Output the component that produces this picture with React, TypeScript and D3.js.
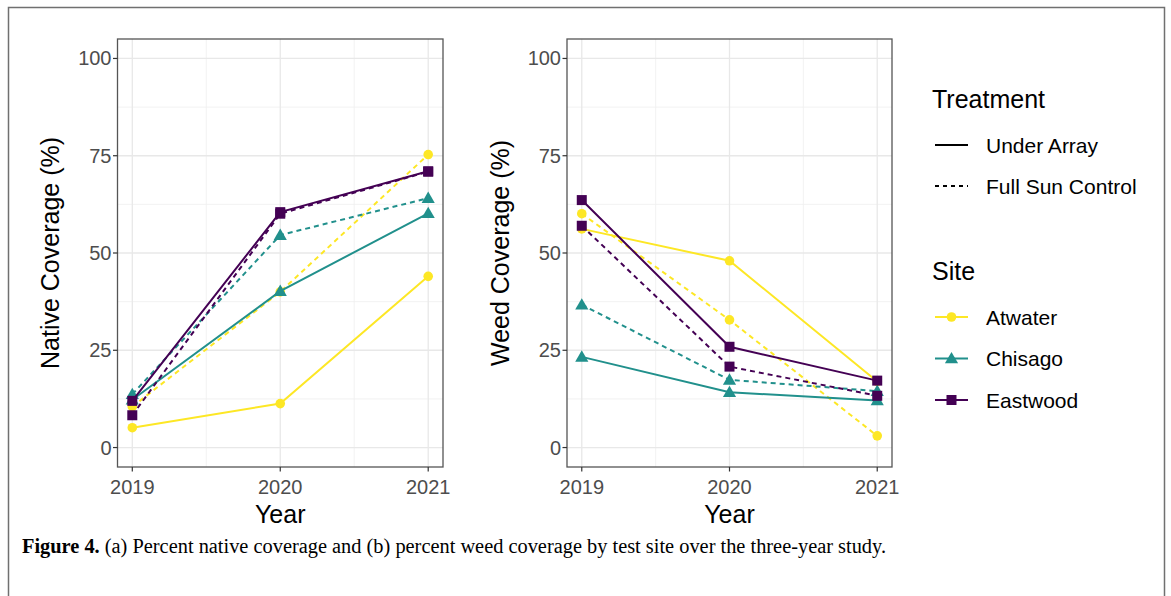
import * as d3 from "d3";
import React, { useRef, useEffect } from "react";

// data
const years = [2019, 2020, 2021];
const sites = ["Atwater", "Chisago", "Eastwood"];
const siteColors = ["#FDE725", "#21908C", "#440154"];
const treatments = ["Under Array", "Full Sun Control"];
const yTicks = [0, 25, 50, 75, 100];

const nativeAtwaterUA = [5.1, 11.3, 44];
const nativeAtwaterFSC = [10.5, 40, 75.3];
const nativeChisagoUA = [12.3, 40.2, 60.2];
const nativeChisagoFSC = [13.7, 54.6, 64.1];
const nativeEastwoodUA = [12, 60.5, 71];
const nativeEastwoodFSC = [8.3, 60.1, 70.9];

const weedAtwaterUA = [56.2, 48, 17];
const weedAtwaterFSC = [60.1, 32.8, 3];
const weedChisagoUA = [23.3, 14.2, 12.1];
const weedChisagoFSC = [36.7, 17.4, 14.5];
const weedEastwoodUA = [63.6, 25.9, 17.2];
const weedEastwoodFSC = [57, 20.8, 13.3];

const nativeSeries = [
  { site: 0, trt: 0, values: nativeAtwaterUA },
  { site: 0, trt: 1, values: nativeAtwaterFSC },
  { site: 1, trt: 0, values: nativeChisagoUA },
  { site: 1, trt: 1, values: nativeChisagoFSC },
  { site: 2, trt: 0, values: nativeEastwoodUA },
  { site: 2, trt: 1, values: nativeEastwoodFSC },
];
const weedSeries = [
  { site: 0, trt: 0, values: weedAtwaterUA },
  { site: 0, trt: 1, values: weedAtwaterFSC },
  { site: 1, trt: 0, values: weedChisagoUA },
  { site: 1, trt: 1, values: weedChisagoFSC },
  { site: 2, trt: 0, values: weedEastwoodUA },
  { site: 2, trt: 1, values: weedEastwoodFSC },
];

const dash = "5,4";
const font = "Liberation Sans, Arial, sans-serif";

function marker(sel, siteIdx, x, y, color) {
  if (siteIdx === 0) {
    sel.append("circle").attr("cx", x).attr("cy", y).attr("r", 4.8).attr("fill", color);
  } else if (siteIdx === 1) {
    const s = d3.symbol().type(d3.symbolTriangle).size(75);
    sel.append("path").attr("d", s()).attr("transform", `translate(${x},${y + 1})`).attr("fill", color);
  } else {
    sel.append("rect").attr("x", x - 5).attr("y", y - 5).attr("width", 10).attr("height", 10).attr("fill", color);
  }
}

function App() {
  const svgRef = useRef();
  const width = 1171;
  const height = 596;

  useEffect(() => {
    const svg = d3.select(svgRef.current);
    svg.selectAll("*").remove();

    svg.append("rect").attr("width", width).attr("height", height).attr("fill", "white");
    // figure frame (open at the bottom)
    svg.append("path")
      .attr("d", `M8.5,${height} V7.5 H1164.5 V${height}`)
      .attr("fill", "none").attr("stroke", "#707070").attr("stroke-width", 1.5);

    const yScale = d3.scaleLinear().domain([-5, 105]).range([467, 39]);

    function panel(left, right, series, title, titleX) {
      const xScale = d3.scaleLinear().domain([2018.9, 2021.1]).range([left, right]);
      const g = svg.append("g");
      const top = yScale(105), bottom = yScale(-5);

      // minor grid
      [12.5, 37.5, 62.5, 87.5].forEach(v => {
        g.append("line").attr("x1", left).attr("x2", right).attr("y1", yScale(v)).attr("y2", yScale(v))
          .attr("stroke", "#efefef").attr("stroke-width", 0.8);
      });
      [2019.5, 2020.5].forEach(v => {
        g.append("line").attr("y1", top).attr("y2", bottom).attr("x1", xScale(v)).attr("x2", xScale(v))
          .attr("stroke", "#efefef").attr("stroke-width", 0.8);
      });
      // major grid
      yTicks.forEach(v => {
        g.append("line").attr("x1", left).attr("x2", right).attr("y1", yScale(v)).attr("y2", yScale(v))
          .attr("stroke", "#e8e8e8").attr("stroke-width", 1.3);
      });
      years.forEach(v => {
        g.append("line").attr("y1", top).attr("y2", bottom).attr("x1", xScale(v)).attr("x2", xScale(v))
          .attr("stroke", "#e8e8e8").attr("stroke-width", 1.3);
      });

      const line = d3.line().x((d, i) => xScale(years[i])).y(d => yScale(d));
      series.forEach(s => {
        g.append("path")
          .attr("d", line(s.values))
          .attr("fill", "none")
          .attr("stroke", siteColors[s.site])
          .attr("stroke-width", 2)
          .attr("stroke-dasharray", s.trt === 1 ? dash : null);
        s.values.forEach((v, i) => marker(g, s.site, xScale(years[i]), yScale(v), siteColors[s.site]));
      });

      // panel border
      g.append("rect").attr("x", left).attr("y", top).attr("width", right - left).attr("height", bottom - top)
        .attr("fill", "none").attr("stroke", "#555").attr("stroke-width", 1.3);

      // y axis ticks and labels
      yTicks.forEach(v => {
        g.append("line").attr("x1", left - 4.5).attr("x2", left).attr("y1", yScale(v)).attr("y2", yScale(v))
          .attr("stroke", "#333").attr("stroke-width", 1.2);
        g.append("text").text(v).attr("x", left - 6).attr("y", yScale(v) + 7)
          .attr("text-anchor", "end").style("font-family", font).style("font-size", "20px").style("fill", "#4d4d4d");
      });
      years.forEach(v => {
        g.append("line").attr("x1", xScale(v)).attr("x2", xScale(v)).attr("y1", bottom).attr("y2", bottom + 4.5)
          .attr("stroke", "#333").attr("stroke-width", 1.2);
        g.append("text").text(v).attr("x", xScale(v)).attr("y", bottom + 27)
          .attr("text-anchor", "middle").style("font-family", font).style("font-size", "20px").style("fill", "#4d4d4d");
      });

      g.append("text").text("Year").attr("x", xScale(2020)).attr("y", 523)
        .attr("text-anchor", "middle").style("font-family", font).style("font-size", "25px").style("fill", "black");
      g.append("text").text(title)
        .attr("transform", `translate(${titleX},${yScale(50)}) rotate(-90)`)
        .attr("text-anchor", "middle").style("font-family", font).style("font-size", "25px").style("fill", "black");
    }

    panel(117.5, 443, nativeSeries, "Native Coverage (%)", 59);
    panel(567, 892, weedSeries, "Weed Coverage (%)", 509);

    // legends
    const lg = svg.append("g");
    lg.append("text").text("Treatment").attr("x", 932).attr("y", 108)
      .style("font-family", font).style("font-size", "25px").style("fill", "black");
    treatments.forEach((t, i) => {
      const y = 145 + i * 41;
      lg.append("line").attr("x1", 935).attr("x2", 968).attr("y1", y).attr("y2", y)
        .attr("stroke", "black").attr("stroke-width", 2).attr("stroke-dasharray", i === 1 ? "4,4" : null);
      lg.append("text").text(t).attr("x", 986).attr("y", y + 7.5)
        .style("font-family", font).style("font-size", "21px").style("fill", "black");
    });
    lg.append("text").text("Site").attr("x", 932).attr("y", 280)
      .style("font-family", font).style("font-size", "25px").style("fill", "black");
    sites.forEach((s, i) => {
      const y = 317 + i * 41.5;
      lg.append("line").attr("x1", 935).attr("x2", 968).attr("y1", y).attr("y2", y)
        .attr("stroke", siteColors[i]).attr("stroke-width", 2);
      marker(lg, i, 951.5, y, siteColors[i]);
      lg.append("text").text(s).attr("x", 986).attr("y", y + 7.5)
        .style("font-family", font).style("font-size", "21px").style("fill", "black");
    });

    // caption
    const cap = svg.append("text").attr("x", 22).attr("y", 553)
      .attr("textLength", 864).attr("lengthAdjust", "spacingAndGlyphs")
      .style("font-family", "Liberation Serif, Times New Roman, serif").style("font-size", "20px").style("fill", "black");
    cap.append("tspan").text("Figure 4.").style("font-weight", "bold");
    cap.append("tspan").text(" (a) Percent native coverage and (b) percent weed coverage by test site over the three-year study.");
  }, []);

  return (
    <div style={{ position: "fixed", left: 0, top: 0, width: width, height: height, overflow: "hidden" }}>
      <svg ref={svgRef} width={width} height={height} style={{ display: "block" }}></svg>
    </div>
  );
}

export default App;
